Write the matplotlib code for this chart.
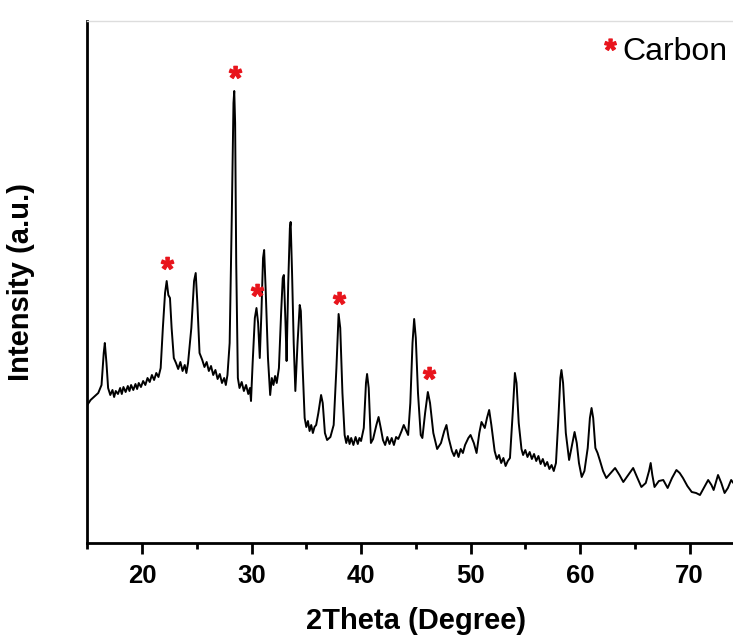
import matplotlib
matplotlib.use('Agg')
from matplotlib import pyplot as plt
from matplotlib.path import Path
from matplotlib.textpath import TextPath
from matplotlib.font_manager import FontProperties
from matplotlib.lines import Line2D
import numpy as np

# traced XRD pattern (2theta in degree, intensity in arbitrary units)
two_theta = [
    15.0, 15.3, 15.6, 16.0, 16.3, 16.5, 16.6, 16.75, 16.9, 17.1,
    17.3, 17.45, 17.6, 17.8, 18.0, 18.15, 18.3, 18.5, 18.7, 18.85,
    19.0, 19.2, 19.4, 19.55, 19.7, 19.9, 20.1, 20.3, 20.5, 20.7,
    20.9, 21.1, 21.3, 21.5, 21.7, 21.9, 22.1, 22.25, 22.4, 22.55,
    22.7, 22.9, 23.1, 23.3, 23.5, 23.7, 23.9, 24.05, 24.2, 24.5,
    24.75, 24.9, 25.05, 25.25, 25.5, 25.7, 25.9, 26.1, 26.3, 26.5,
    26.7, 26.9, 27.1, 27.3, 27.5, 27.65, 27.8, 28.0, 28.2, 28.35,
    28.42, 28.5, 28.6, 28.75, 28.9, 29.1, 29.3, 29.5, 29.7, 29.85,
    29.95, 30.1, 30.3, 30.45, 30.6, 30.75, 30.9, 31.05, 31.15, 31.3,
    31.5, 31.7, 31.85, 32.0, 32.15, 32.3, 32.5, 32.7, 32.85, 32.95,
    33.1, 33.2, 33.35, 33.5, 33.57, 33.7, 33.85, 34.0, 34.2, 34.4,
    34.5, 34.65, 34.85, 35.0, 35.15, 35.3, 35.45, 35.6, 35.75, 35.9,
    36.1, 36.35, 36.5, 36.7, 36.9, 37.2, 37.5, 37.75, 37.95, 38.1,
    38.3, 38.5, 38.65, 38.8, 38.95, 39.1, 39.3, 39.5, 39.7, 39.85,
    40.0, 40.25, 40.45, 40.55, 40.7, 40.9, 41.1, 41.4, 41.6, 41.8,
    42.0, 42.2, 42.4, 42.6, 42.8, 43.0, 43.2, 43.4, 43.7, 43.9,
    44.1, 44.3, 44.5, 44.7, 44.85, 45.0, 45.2, 45.45, 45.6, 45.85,
    46.1, 46.3, 46.6, 46.95, 47.3, 47.6, 47.8, 48.0, 48.3, 48.5,
    48.7, 48.9, 49.1, 49.3, 49.5, 49.8, 50.0, 50.3, 50.55, 50.8,
    51.0, 51.3, 51.5, 51.7, 51.9, 52.2, 52.4, 52.6, 52.8, 53.0,
    53.2, 53.4, 53.6, 53.85, 54.05, 54.2, 54.4, 54.65, 54.8, 55.0,
    55.2, 55.4, 55.6, 55.8, 56.0, 56.2, 56.4, 56.6, 56.8, 57.0,
    57.2, 57.4, 57.6, 57.8, 58.0, 58.2, 58.3, 58.45, 58.7, 59.0,
    59.3, 59.5, 59.7, 59.9, 60.15, 60.4, 60.7, 60.9, 61.05, 61.2,
    61.4, 61.6, 61.8, 62.1, 62.4, 62.8, 63.2, 63.6, 63.95, 64.4,
    64.85, 65.2, 65.6, 66.0, 66.3, 66.45, 66.6, 66.8, 67.2, 67.6,
    68.0, 68.4, 68.8, 69.1, 69.4, 69.8, 70.2, 70.6, 70.95, 71.3,
    71.7, 72.0, 72.2, 72.6, 72.9, 73.2, 73.5, 73.8, 74.0, 74.5,
]
intensity = [
    138, 143, 146, 150, 158, 190, 200, 180, 155, 148,
    153, 146, 152, 149, 155, 149, 156, 151, 157, 152,
    158, 153, 159, 154, 160, 156, 162, 158, 165, 161,
    168, 163, 170, 166, 175, 215, 250, 262, 248, 245,
    215, 185, 180, 174, 181, 172, 178, 170, 180, 215,
    262, 270, 240, 190, 183, 176, 181, 172, 177, 168,
    173, 164, 169, 160, 165, 158, 168, 200, 330, 440,
    452, 420, 280, 165, 155, 161, 152, 158, 149, 155,
    142, 180, 225, 235, 220, 185, 230, 285, 293, 250,
    185, 148, 165, 158, 167, 160, 175, 230, 265, 268,
    220, 182, 260, 315, 321, 270, 200, 152, 200, 238,
    232, 180, 125, 116, 122, 112, 118, 110, 116, 118,
    130, 148, 140, 110, 103, 106, 118, 175, 229, 215,
    150, 108, 100, 107, 99, 105, 98, 106, 99, 105,
    102, 115, 160, 169, 155, 100, 104, 118, 126, 115,
    103, 98, 106, 99, 105, 98, 106, 104, 112, 118,
    113, 108, 140, 200, 224, 205, 150, 108, 105, 130,
    151, 140, 110, 94, 100, 112, 118, 105, 92, 87,
    93, 86, 94, 90, 98, 105, 108, 100, 90, 110,
    121, 115, 125, 133, 118, 92, 84, 88, 80, 85,
    77, 82, 85, 130, 170, 160, 120, 94, 88, 93,
    86, 91, 84, 89, 82, 87, 79, 84, 77, 81,
    74, 78, 72, 80, 120, 165, 173, 160, 110, 83,
    100, 111, 100, 80, 66, 72, 95, 125, 135, 125,
    95, 90, 83, 72, 65, 70, 75, 68, 61, 68,
    75, 66, 56, 60, 72, 80, 68, 56, 62, 63,
    55, 65, 73, 70, 65, 57, 51, 50, 48, 55,
    63, 58, 53, 68, 60, 50, 55, 63, 60, 58,
]
assert len(two_theta) == len(intensity)

# carbon peak markers
carbon_x = [22.25, 28.5, 30.47, 38.0, 46.2]
carbon_y = [275, 466, 248, 240, 165]

xticks = [20, 30, 40, 50, 60, 70]

font = 'Liberation Sans'

# asterisk marker taken from the font glyph, centred on its own bbox
tp = TextPath((0, 0), '*', prop=FontProperties(family=font, weight='bold'), size=10)
verts = tp.vertices.copy()
verts -= (verts.min(axis=0) + verts.max(axis=0)) / 2
star = Path(verts, tp.codes)

fig = plt.figure(figsize=(7.33, 6.36), dpi=100)
ax = fig.add_axes([87.3 / 733, 93 / 636, 657 / 733, 522 / 636])

ax.plot(two_theta, intensity, color='black', lw=1.4)
ax.plot(carbon_x, carbon_y, ls='none', marker=star, color='#e8141c', markersize=16)

ax.set_xlim(15, 75)
ax.set_ylim(0, 522)

ax.set_xticks(xticks)
ax.set_xticks(np.arange(15, 76, 10), minor=True)
ax.set_yticks([])
ax.tick_params(axis='x', which='major', direction='out', length=8, width=2,
               pad=7, labelsize=18.5)
ax.tick_params(axis='x', which='minor', direction='out', length=4.5, width=2)
for lab in ax.get_xticklabels():
    lab.set_fontfamily(font)
    lab.set_fontweight('bold')

for side in ['left', 'bottom']:
    ax.spines[side].set_linewidth(2)
ax.spines['right'].set_visible(False)
ax.spines['top'].set_color('#dddddd')
ax.spines['top'].set_linewidth(1)

ax.set_xlabel('2Theta (Degree)', fontsize=21, fontweight='bold', family=font)
ax.xaxis.set_label_coords(0.5, -0.122)
ax.set_ylabel('Intensity (a.u.)', fontsize=21, fontweight='bold', family=font)
ax.yaxis.set_label_coords(-0.08, 0.5)

handle = Line2D([], [], ls='none', marker=star, color='#e8141c', markersize=15)
leg = ax.legend([handle], ['Carbon'], loc='upper right', frameon=False,
                bbox_to_anchor=(728 / 733, 1 - 37 / 636), bbox_transform=fig.transFigure,
                prop={'family': font, 'size': 23}, handlelength=0.5,
                handletextpad=0.15, borderpad=0, borderaxespad=0)

fig.savefig('out.png', dpi=100)
